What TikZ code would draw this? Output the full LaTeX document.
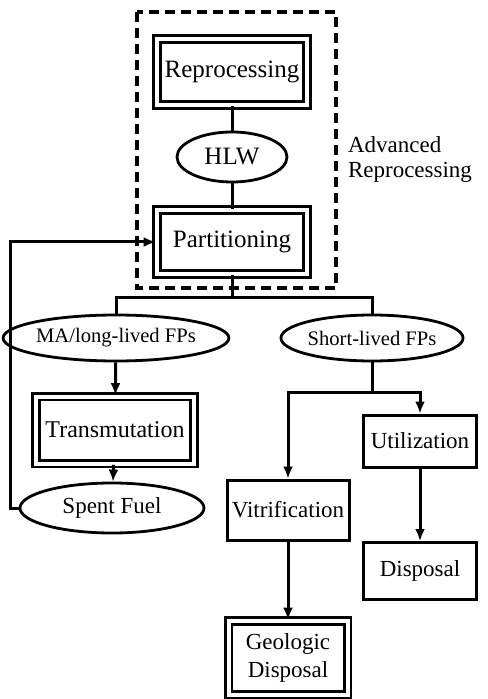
\documentclass[tikz,border=0pt]{standalone}
\usepackage{fontspec}
\setmainfont{Liberation Serif}
\usetikzlibrary{arrows.meta}
\usetikzlibrary{shapes.geometric}

\tikzset{
  dblbox/.style={draw, line width=1.3pt, double, double distance=2pt,
    inner sep=0pt, align=center, font=\fontsize{12.5}{14}\selectfont},
  sglbox/.style={draw, line width=1.5pt, inner sep=0pt, align=center,
    font=\fontsize{11.5}{14}\selectfont},
  oval/.style={draw, ellipse, line width=1.4pt, inner sep=0pt,
    font=\fontsize{10.3}{12}\selectfont},
  flow/.style={line width=1.5pt, -{Latex[length=6pt, width=5pt]}},
  link/.style={line width=1.5pt}
}

\begin{document}
\begin{tikzpicture}[x=0.5pt, y=-0.5pt]

    \useasboundingbox (0,0) rectangle (487,699);

    % Rahmen fuer Advanced Reprocessing
    \draw[line width=1.6pt, dash pattern=on 5pt off 3pt] (137,12) rectangle (336,288);
    \node[anchor=west, align=left, font=\fontsize{11.5}{12.5}\selectfont] (advlabel) at (341,160) {Advanced\\Reprocessing};

    % Knoten oben
    \node[dblbox, minimum width=75pt, minimum height=33pt] (repro) at (232,72) {Reprocessing};
    \node[oval, minimum width=55pt, minimum height=25pt, font=\fontsize{12.5}{14}\selectfont] (hlw) at (232,157) {HLW};
    \node[dblbox, minimum width=75pt, minimum height=32pt] (part) at (232,242) {Partitioning};

    % linker Zweig
    \node[oval, minimum width=96pt, minimum height=23pt] (malong) at (116,338) {MA/long-lived FPs};
    \node[dblbox, minimum width=79pt, minimum height=33.5pt, font=\fontsize{12}{14}\selectfont] (trans) at (115,430) {Transmutation};
    \node[oval, minimum width=92pt, minimum height=25pt, font=\fontsize{11.5}{14}\selectfont] (spent) at (112,508) {Spent Fuel};

    % rechter Zweig
    \node[oval, minimum width=74pt, minimum height=23pt] (short) at (372,338) {Short-lived FPs};
    \node[sglbox, minimum width=61pt, minimum height=30pt] (vitr) at (288,510) {Vitrification};
    \node[sglbox, minimum width=56.5pt, minimum height=26pt] (util) at (420,441) {Utilization};
    \node[sglbox, minimum width=56.5pt, minimum height=28.5pt] (disp) at (420,571) {Disposal};
    \node[dblbox, minimum width=59.5pt, minimum height=37pt, font=\fontsize{11.5}{14}\selectfont] (geo) at (288,658) {Geologic\\Disposal};

    % Hilfspunkte
    \coordinate (bus) at (232,298); % Verzweigung unter Partitioning
    \coordinate (split) at (372,392); % Verzweigung unter Short-lived FPs
    \coordinate (back) at (10,508); % Ruecklauf links

    % Verbindungen
    \draw[link] (repro) -- (hlw);
    \draw[link] (hlw) -- (part);
    \draw[link] (part) -- (bus);
    \draw[link] (malong.north) |- (bus) -| (short.north);
    \draw[flow] (malong) -- (trans);
    \draw[flow] (trans) -- (spent);
    \draw[flow] (spent.west) -- (back) |- (part.west);
    \draw[link] (short) -- (split);
    \draw[flow] (split) -| (vitr.north);
    \draw[flow] (split) -| (util.north);
    \draw[flow] (util) -- (disp);
    \draw[flow] (vitr) -- (geo);

\end{tikzpicture}
\end{document}
